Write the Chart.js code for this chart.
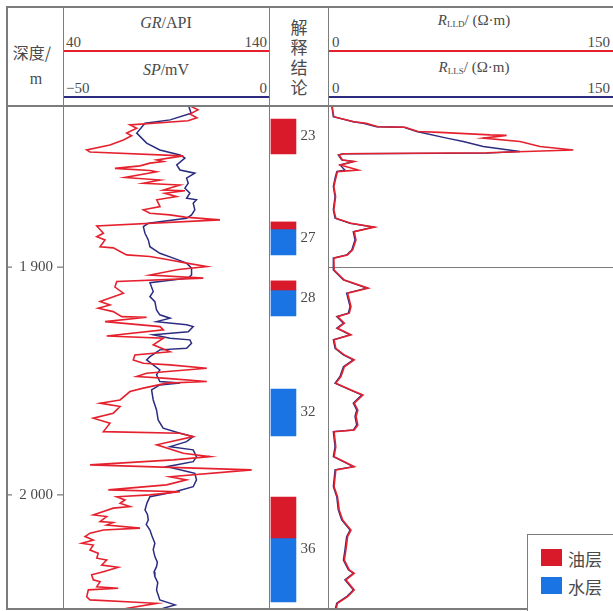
<!DOCTYPE html>
<html>
<head>
<meta charset="utf-8">
<script src="https://cdn.jsdelivr.net/npm/chart.js@4.4.1/dist/chart.umd.min.js"></script>
<style>
  body { margin: 0; background: #fff; }
  #wrap { position: relative; width: 613px; height: 611px; overflow: hidden;
          font-family: "Liberation Serif", "Noto Sans CJK SC", serif; color: #4a4a4a; }
  .ln { position: absolute; background: #7c7c7c; }
  .t { position: absolute; white-space: nowrap; line-height: 1; font-size: 15px; }
  .c { transform: translate(-50%, -50%); }
  .r { transform: translate(-100%, -50%); }
  .l { transform: translate(0, -50%); }
  .cjk { font-family: "Noto Sans CJK SC", sans-serif; }
  canvas { position: absolute; }
  sub { font-size: 9px; vertical-align: -2px; }
</style>
</head>
<body>
<div id="wrap">
  <!-- header text -->
  <div class="t c cjk" style="left:32px;top:52px;font-size:16px;">深度/</div>
  <div class="t c" style="left:36px;top:79px;font-size:16px;">m</div>

  <div class="t c" style="left:166px;top:23px;font-size:16px;"><i>GR</i>/API</div>
  <div class="t l" style="left:66px;top:42px;">40</div>
  <div class="t r" style="left:267px;top:42px;">140</div>
  <div class="t c" style="left:166px;top:70px;font-size:16px;"><i>SP</i>/mV</div>
  <div class="t l" style="left:66px;top:88px;">&minus;50</div>
  <div class="t r" style="left:267px;top:88px;">0</div>

  <div class="t cjk" style="left:290px;top:17px;font-size:17px;line-height:20px;width:18px;text-align:center;">解<br>释<br>结<br>论</div>

  <div class="t c" style="left:474px;top:21px;font-size:15px;"><i>R</i><sub>LLD</sub>/ (Ω·m)</div>
  <div class="t l" style="left:332px;top:42px;">0</div>
  <div class="t r" style="left:610px;top:42px;">150</div>
  <div class="t c" style="left:474px;top:68px;font-size:15px;"><i>R</i><sub>LLS</sub>/ (Ω·m)</div>
  <div class="t l" style="left:332px;top:88px;">0</div>
  <div class="t r" style="left:610px;top:88px;">150</div>

  <!-- header scale lines -->
  <div class="ln" style="left:63px;top:50px;width:206px;height:1.5px;background:#e5212e;"></div>
  <div class="ln" style="left:328px;top:50px;width:285px;height:1.5px;background:#e5212e;"></div>
  <div class="ln" style="left:63px;top:96px;width:206px;height:1.5px;background:#2b2b80;"></div>
  <div class="ln" style="left:328px;top:96px;width:285px;height:1.5px;background:#2b2b80;"></div>

  <canvas id="grChart" width="262" height="503" style="left:7px;top:106px;"></canvas>
  <canvas id="concChart" width="59" height="503" style="left:269px;top:106px;"></canvas>
  <canvas id="resChart" width="285" height="503" style="left:328px;top:106px;"></canvas>

  <!-- frame -->
  <div class="ln" style="left:6px;top:6px;width:607px;height:1.5px;"></div>
  <div class="ln" style="left:6px;top:105px;width:607px;height:1.5px;"></div>
  <div class="ln" style="left:6px;top:608px;width:607px;height:1.5px;"></div>
  <div class="ln" style="left:6px;top:6px;width:1.5px;height:603px;"></div>
  <div class="ln" style="left:62.5px;top:6px;width:1.5px;height:603px;"></div>
  <div class="ln" style="left:268.5px;top:6px;width:1.5px;height:603px;"></div>
  <div class="ln" style="left:327.5px;top:6px;width:1.5px;height:603px;"></div>

  <!-- legend -->
  <div style="position:absolute;left:527px;top:534px;width:90px;height:80px;border-left:1.2px solid #7c7c7c;border-top:1.2px solid #7c7c7c;background:#fff;"></div>
  <div style="position:absolute;left:541px;top:549px;width:21px;height:17px;background:#d91a2a;"></div>
  <div class="t l cjk" style="left:568px;top:558px;font-size:17px;">油层</div>
  <div style="position:absolute;left:541px;top:577px;width:21px;height:17px;background:#1a74e4;"></div>
  <div class="t l cjk" style="left:568px;top:586px;font-size:17px;">水层</div>
</div>

<script>
// depth range of the body (m)
const depthMin = 1829.2;
const depthMax = 2050.1;

// depth axis ticks
const depthTicks = [1900, 2000];
const depthTickLabels = ['1 900', '2 000'];

// GR curve: [depth m, API]
const grCurve = [
  [1828.7,100.7],[1830.9,105.5],[1832.7,101.6],[1834.4,105.0],[1835.7,100.7],[1837.5,72.5],
  [1839.0,75.8],[1841.1,70.9],[1842.3,73.3],[1844.1,69.3],[1846.3,62.8],[1848.5,51.5],
  [1849.4,53.1],[1851.1,98.4],[1852.9,85.5],[1853.6,88.7],[1854.3,82.2],[1855.5,77.4],
  [1856.6,65.2],[1857.5,82.2],[1858.1,85.5],[1860.6,70.1],[1861.7,87.1],[1863.1,79.0],
  [1863.9,96.8],[1866.1,88.7],[1866.4,99.2],[1867.5,89.5],[1869.0,95.2],[1870.4,85.5],
  [1873.4,87.1],[1874.8,79.0],[1876.3,82.2],[1877.0,91.9],[1878.0,99.2],[1879.2,116.2],
  [1881.9,56.4],[1885.1,59.6],[1886.6,56.4],[1888.0,60.4],[1891.0,58.0],[1891.5,64.4],
  [1893.1,67.7],[1894.6,70.9],[1895.3,82.2],[1896.8,91.9],[1898.2,100.0],[1899.7,109.8],
  [1901.0,96.0],[1903.4,82.2],[1904.8,108.1],[1906.3,66.1],[1908.7,65.2],[1911.4,69.3],
  [1915.1,58.0],[1916.6,62.8],[1918.0,57.1],[1919.5,64.4],[1921.7,68.5],[1922.0,80.6],
  [1923.9,60.4],[1926.1,87.1],[1927.5,88.7],[1930.2,61.2],[1931.2,88.7],[1934.1,83.8],
  [1937.1,91.9],[1938.5,74.9],[1940.7,74.1],[1942.2,79.0],[1942.9,91.9],[1944.4,109.8],
  [1946.6,80.6],[1948.0,75.8],[1948.8,90.3],[1950.2,109.8],[1950.9,90.3],[1953.1,79.0],
  [1954.6,72.5],[1958.3,67.7],[1959.7,58.0],[1961.2,67.7],[1964.1,64.4],[1966.3,54.7],
  [1968.5,62.8],[1972.2,59.6],[1972.9,96.8],[1974.4,103.2],[1978.0,85.5],[1981.7,98.4],
  [1983.2,111.4],[1984.6,93.5],[1986.8,53.1],[1989.0,131.6],[1992.0,91.9],[1993.4,100.0],
  [1995.6,90.3],[1997.8,62.0],[1998.6,96.8],[2000.0,82.2],[2000.8,66.1],[2002.2,70.1],
  [2003.7,67.7],[2005.1,72.5],[2005.8,64.4],[2007.3,59.6],[2008.8,54.7],[2009.5,61.2],
  [2011.7,58.0],[2012.1,64.4],[2013.2,61.2],[2014.6,77.4],[2015.4,59.6],[2016.8,53.1],
  [2018.3,50.7],[2019.8,54.7],[2021.2,49.1],[2022.0,54.7],[2024.2,53.1],[2025.6,57.1],
  [2027.8,56.4],[2028.6,61.2],[2030.8,58.8],[2031.8,66.8],[2033.7,59.6],[2035.1,53.9],
  [2037.3,54.7],[2038.1,58.0],[2040.3,56.4],[2041.0,66.8],[2041.7,52.3],[2044.7,51.5],
  [2046.1,53.1],[2047.6,85.5],[2049.8,70.9],[2050.5,71.0]
];

// SP curve: [depth m, mV]
const spCurve = [
  [1828.7,-19.6],[1832.4,-18.9],[1835.3,-24.0],[1836.8,-30.1],[1841.1,-32.1],[1845.5,-29.7],
  [1848.5,-26.5],[1850.7,-21.6],[1852.1,-20.4],[1855.1,-22.4],[1857.3,-21.6],[1858.7,-18.0],
  [1860.9,-20.0],[1863.1,-19.6],[1865.3,-20.4],[1867.5,-19.2],[1869.7,-20.0],[1870.4,-17.6],
  [1871.9,-18.4],[1874.8,-18.0],[1877.0,-18.8],[1878.5,-20.0],[1880.7,-29.3],[1882.2,-30.5],
  [1885.1,-30.1],[1888.0,-29.3],[1891.0,-28.9],[1893.9,-26.5],[1896.0,-23.2],[1898.2,-20.0],
  [1900.4,-18.8],[1903.4,-18.8],[1904.8,-19.6],[1906.8,-28.9],[1910.7,-28.1],[1912.9,-28.9],
  [1915.1,-27.7],[1918.8,-27.3],[1920.9,-26.5],[1922.4,-24.0],[1923.9,-27.3],[1925.3,-20.0],
  [1926.1,-18.4],[1928.3,-19.6],[1929.7,-28.1],[1931.2,-24.0],[1931.9,-19.2],[1933.4,-18.8],
  [1935.6,-20.0],[1936.3,-26.5],[1939.3,-28.9],[1940.7,-29.7],[1945.1,-26.5],[1947.3,-27.3],
  [1950.2,-26.5],[1950.8,-21.6],[1951.7,-26.5],[1953.9,-28.5],[1958.3,-28.1],[1962.7,-27.3],
  [1967.1,-26.9],[1970.7,-25.7],[1972.9,-21.6],[1974.4,-18.4],[1976.6,-20.0],[1978.8,-24.0],
  [1980.2,-18.4],[1983.2,-17.6],[1985.4,-18.4],[1987.6,-24.8],[1989.8,-19.6],[1990.5,-18.0],
  [1993.4,-17.6],[1996.4,-18.4],[1998.6,-22.8],[2000.8,-28.9],[2003.5,-29.6],[2006.6,-30.1],
  [2008.6,-29.5],[2011.0,-29.3],[2013.0,-29.8],[2015.4,-28.9],[2018.0,-28.4],[2021.2,-27.7],
  [2024.0,-28.1],[2027.1,-27.7],[2029.5,-27.1],[2031.5,-27.3],[2033.8,-27.9],[2035.9,-27.7],
  [2038.5,-27.0],[2041.7,-27.3],[2044.0,-26.9],[2046.1,-26.5],[2048.3,-22.8],[2049.8,-25.7],
  [2050.5,-25.7]
];

// R_LLS curve: [depth m, ohm·m]
const llsCurve = [
  [1828.7,1.9],[1833.9,2.8],[1836.1,13.3],[1836.8,18.6],[1838.3,25.6],[1838.5,39.6],
  [1840.4,46.7],[1843.3,62.5],[1844.8,71.2],[1847.0,81.7],[1849.2,101.0],[1849.9,83.5],
  [1850.2,8.1],[1850.7,5.4],[1852.9,7.2],[1853.6,13.3],[1855.1,6.3],[1857.3,8.9],
  [1858.0,4.6],[1860.9,3.7],[1864.6,2.8],[1869.0,3.7],[1874.8,2.8],[1878.5,3.7],
  [1880.7,11.6],[1882.4,23.8],[1884.4,13.3],[1888.0,14.2],[1892.4,12.5],[1894.6,9.8],
  [1896.0,2.8],[1901.2,2.8],[1905.6,8.1],[1909.2,20.4],[1911.4,9.8],[1917.3,11.6],
  [1920.2,10.7],[1921.7,4.6],[1924.6,8.1],[1926.8,4.6],[1929.7,11.6],[1931.9,2.8],
  [1935.6,3.7],[1938.5,8.1],[1940.7,13.3],[1943.7,8.1],[1948.0,6.3],[1950.9,3.7],
  [1953.9,11.6],[1956.1,17.7],[1959.7,13.3],[1962.7,15.1],[1965.6,14.2],[1969.3,15.1],
  [1971.5,13.3],[1972.2,2.8],[1978.8,3.7],[1983.2,2.8],[1985.4,8.1],[1987.6,13.3],
  [1989.0,3.7],[1996.4,2.8],[2000.8,4.6],[2006.6,5.4],[2011.0,7.2],[2015.4,11.6],
  [2018.3,9.8],[2024.2,8.9],[2028.6,8.1],[2032.9,10.7],[2034.4,13.3],[2037.3,8.9],
  [2041.7,13.3],[2044.7,9.8],[2047.6,4.6],[2050.5,3.7]
];

// R_LLD curve: [depth m, ohm·m]
const lldCurve = [
  [1828.7,2.1],[1833.9,3.0],[1836.1,13.6],[1836.8,20.0],[1838.3,26.3],[1838.5,40.5],
  [1840.4,47.4],[1840.8,58.9],[1841.9,85.3],[1842.1,94.0],[1843.3,81.7],[1844.8,101.0],
  [1847.0,111.6],[1848.5,129.1],[1849.7,83.5],[1850.2,8.4],[1850.7,5.8],[1852.9,7.6],
  [1853.6,13.8],[1855.1,6.6],[1857.3,15.9],[1858.0,5.0],[1860.9,4.1],[1864.6,3.1],
  [1869.0,4.0],[1874.8,3.1],[1878.5,4.1],[1880.7,12.0],[1882.4,24.5],[1884.4,13.8],
  [1888.0,14.7],[1892.4,13.0],[1894.6,10.2],[1896.0,3.1],[1901.2,3.2],[1905.6,8.6],
  [1909.2,21.2],[1911.4,10.3],[1917.3,12.1],[1920.2,11.2],[1921.7,5.0],[1924.6,8.6],
  [1926.8,5.0],[1929.7,12.1],[1931.9,3.2],[1935.6,4.1],[1938.5,8.6],[1940.7,13.8],
  [1943.7,8.6],[1948.0,6.8],[1950.9,4.1],[1953.9,12.1],[1956.1,18.4],[1959.7,13.8],
  [1962.7,15.7],[1965.6,14.8],[1969.3,15.7],[1971.5,13.8],[1972.2,3.2],[1978.8,4.1],
  [1983.2,3.2],[1985.4,8.6],[1987.6,13.8],[1989.0,4.1],[1996.4,3.2],[2000.8,5.0],
  [2006.6,5.9],[2011.0,7.7],[2015.4,12.1],[2018.3,10.3],[2024.2,9.4],[2028.6,8.6],
  [2032.9,11.2],[2034.4,13.8],[2037.3,9.4],[2041.7,13.8],[2044.7,10.3],[2047.6,5.0],
  [2050.5,4.1]
];

// interpretation: layer numbers and intervals (m)
const layerNames  = ['23', '27', '28', '32', '36'];
const layerTop    = [1834.9, 1880.1, 1906.0, 1953.5, 2000.9];
const layerBottom = [1850.2, 1894.6, 1921.4, 1974.1, 2047.0];
const oilTop      = [1834.9, 1880.1, 1906.0, 2000.9];
const oilBottom   = [1850.2, 1883.2, 1910.0, 2018.9];
const waterTop    = [1883.2, 1910.0, 1953.5, 2018.9];
const waterBottom = [1894.6, 1921.4, 1974.1, 2047.0];

const RED = '#e5212e';
const NAVY = '#2b2b80';

const toXY = curve => curve.map(p => ({ x: p[1], y: p[0] }));

const depthScale = { type: 'linear', reverse: true, min: depthMin, max: depthMax, display: false };

const baseOptions = {
    responsive: false,
    animation: false,
    layout: { padding: 0 },
    plugins: { legend: { display: false }, tooltip: { enabled: false } }
};

// depth numbers in the left column, placed by the depth scale
const depthLabelPlugin = {
    id: 'depthLabels',
    afterDraw(chart) {
        const { ctx, chartArea, scales } = chart;
        ctx.save();
        ctx.font = '15px "Liberation Serif"';
        ctx.fillStyle = '#4a4a4a';
        ctx.strokeStyle = '#7c7c7c';
        ctx.lineWidth = 1.2;
        ctx.textAlign = 'center';
        ctx.textBaseline = 'middle';
        depthTicks.forEach((d, i) => {
            const y = scales.y.getPixelForValue(d);
            ctx.fillText(depthTickLabels[i], chartArea.left / 2 + 1, y);
            ctx.beginPath();
            ctx.moveTo(0, y);
            ctx.lineTo(5, y);
            ctx.moveTo(chartArea.left - 6, y);
            ctx.lineTo(chartArea.left, y);
            ctx.stroke();
        });
        ctx.restore();
    }
};

new Chart(document.getElementById('grChart'), {
    type: 'scatter',
    data: {
        datasets: [
            { label: 'GR', data: toXY(grCurve), xAxisID: 'xGR', showLine: true,
              borderColor: RED, borderWidth: 1.6, pointRadius: 0 },
            { label: 'SP', data: toXY(spCurve), xAxisID: 'xSP', showLine: true,
              borderColor: NAVY, borderWidth: 1.5, pointRadius: 0 }
        ]
    },
    options: {
        ...baseOptions,
        layout: { padding: { left: 56 } },
        scales: {
            xGR: { type: 'linear', min: 40, max: 140, display: false },
            xSP: { type: 'linear', min: -50, max: 0, display: false },
            y: depthScale
        }
    },
    plugins: [depthLabelPlugin]
});

// layer numbers next to the bars
const layerLabelPlugin = {
    id: 'layerLabels',
    afterDraw(chart) {
        const { ctx, scales } = chart;
        ctx.save();
        ctx.font = '15px "Liberation Serif"';
        ctx.fillStyle = '#4a4a4a';
        ctx.textAlign = 'left';
        ctx.textBaseline = 'middle';
        const x = scales.x.getPixelForValue(0.245) + 17;
        layerNames.forEach((name, i) => {
            ctx.fillText(name, x, scales.y.getPixelForValue((layerTop[i] + layerBottom[i]) / 2));
        });
        ctx.restore();
    }
};

new Chart(document.getElementById('concChart'), {
    type: 'bar',
    data: {
        datasets: [
            { label: '油层', data: oilTop.map((t, i) => ({ x: 0.245, y: [t, oilBottom[i]] })),
              backgroundColor: '#d91a2a', barThickness: 25, grouped: false },
            { label: '水层', data: waterTop.map((t, i) => ({ x: 0.245, y: [t, waterBottom[i]] })),
              backgroundColor: '#1a74e4', barThickness: 25, grouped: false }
        ]
    },
    options: {
        ...baseOptions,
        scales: {
            x: { type: 'linear', min: 0, max: 1, display: false, offset: false },
            y: depthScale
        }
    },
    plugins: [layerLabelPlugin]
});

// single depth grid line in the resistivity track
const gridDepths = [1900];
const gridPlugin = {
    id: 'depthGrid',
    beforeDatasetsDraw(chart) {
        const { ctx, chartArea, scales } = chart;
        ctx.save();
        ctx.strokeStyle = '#7c7c7c';
        ctx.lineWidth = 1.2;
        gridDepths.forEach(d => {
            const y = Math.round(scales.y.getPixelForValue(d)) + 0.5;
            ctx.beginPath();
            ctx.moveTo(chartArea.left, y);
            ctx.lineTo(chartArea.right, y);
            ctx.stroke();
        });
        ctx.restore();
    }
};

new Chart(document.getElementById('resChart'), {
    type: 'scatter',
    data: {
        datasets: [
            { label: 'RLLD', data: toXY(lldCurve), showLine: true,
              borderColor: RED, borderWidth: 1.6, pointRadius: 0 },
            { label: 'RLLS', data: toXY(llsCurve), showLine: true,
              borderColor: NAVY, borderWidth: 1.4, pointRadius: 0 }
        ]
    },
    options: {
        ...baseOptions,
        scales: {
            x: { type: 'linear', min: 0, max: 150, display: false },
            y: depthScale
        }
    },
    plugins: [gridPlugin]
});
</script>
</body>
</html>
